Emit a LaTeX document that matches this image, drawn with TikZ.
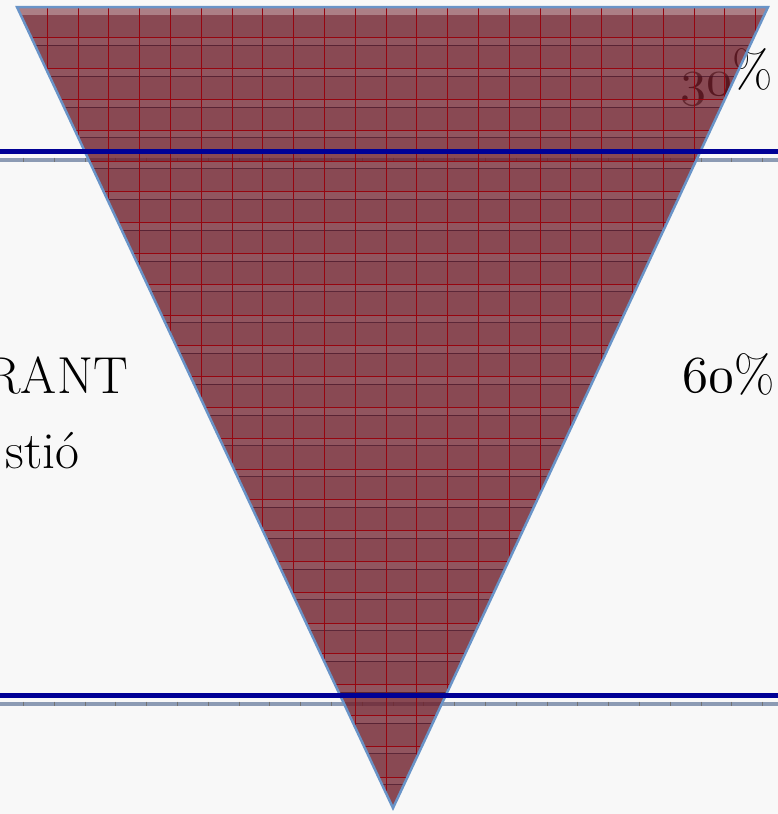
\documentclass[tikz,border=0pt]{standalone}
\DeclareFontFamily{OML}{myosf}{\skewchar\font=127}
\DeclareFontShape{OML}{myosf}{m}{it}{<->cmmi10}{}
\newcommand{\myosf}[1]{{\usefont{OML}{myosf}{m}{it}#1}}
\definecolor{tri}{RGB}{110,30,42}
\definecolor{navyl}{RGB}{0,0,150}
\definecolor{rul}{RGB}{140,155,180}
\definecolor{edgeb}{RGB}{105,148,200}
\definecolor{gridr}{RGB}{150,5,15}
\definecolor{gridd}{RGB}{70,20,40}
\definecolor{bg}{RGB}{248,248,248}
\tikzset{
  lbl/.style={inner sep=0pt, font=\fontsize{52}{58}\selectfont},
  bluerule/.style={navyl, line width=5pt},
  grayrule/.style={rul, line width=4pt},
  tick/.style={black!55, line width=0.8pt},
  gridred/.style={gridr, line width=0.9pt},
  griddark/.style={gridd, line width=0.7pt, opacity=0.7}
}
\begin{document}
\begin{tikzpicture}[x=1pt,y=-1pt]
\useasboundingbox (0,0) rectangle (778,814);
\fill[bg] (0,0) rectangle (778,814);
% texts (under the translucent triangle)
\node[lbl, anchor=base east] (rant) at (128,393) {RANT};
\node[lbl, anchor=base east] (stio) at (80,468) {stió};
\node[lbl, anchor=base east] (sixty) at (775,392) {\myosf{60}\%};
\node[lbl, anchor=base east] (thirty) at (773,95) {\myosf{30}\raisebox{8pt}{\%}};
% gray rulers under triangle
\coordinate (rA1) at (0,159.5); \coordinate (rA2) at (778,159.5);
\coordinate (rB1) at (0,703.5); \coordinate (rB2) at (778,703.5);
\draw[grayrule] (rA1) -- (rA2);
\draw[grayrule] (rB1) -- (rB2);
\foreach \k in {0,...,25}{
  \draw[tick] ({23.3+30.8*\k},157.5) -- ++(0,4);
  \draw[tick] ({23.3+30.8*\k},701.5) -- ++(0,4);
}
% triangle
\coordinate (tl) at (17,7);
\coordinate (tr) at (768,7);
\coordinate (ap) at (393,808);
\fill[tri, fill opacity=0.8] (tl) -- (tr) -- (ap) -- cycle;
\begin{scope}
  \clip (tl) -- (tr) -- (ap) -- cycle;
  \fill[white, opacity=0.3] (0,7) rectangle (778,15);
  \foreach \k in {1,...,26}{
    \fill[white, opacity=0.07] (0,{7+30.8*\k}) rectangle (778,{14.5+30.8*\k});
    \draw[gridred] (0,{7+30.8*\k}) -- (778,{7+30.8*\k});
    \draw[griddark] (0,{14.5+30.8*\k}) -- (778,{14.5+30.8*\k});
  }
  \foreach \k in {1,...,25}{
    \draw[gridred] ({16.5+30.8*\k},0) -- ({16.5+30.8*\k},814);
  }
\end{scope}
\draw[edgeb, line width=2.5pt, line join=miter, miter limit=20] (tl) -- (tr) -- (ap) -- cycle;
% blue rules on top
\coordinate (bA1) at (0,151.5); \coordinate (bA2) at (778,151.5);
\coordinate (bB1) at (0,695.5); \coordinate (bB2) at (778,695.5);
\draw[bluerule] (bA1) -- (bA2);
\draw[bluerule] (bB1) -- (bB2);
\end{tikzpicture}
\end{document}
